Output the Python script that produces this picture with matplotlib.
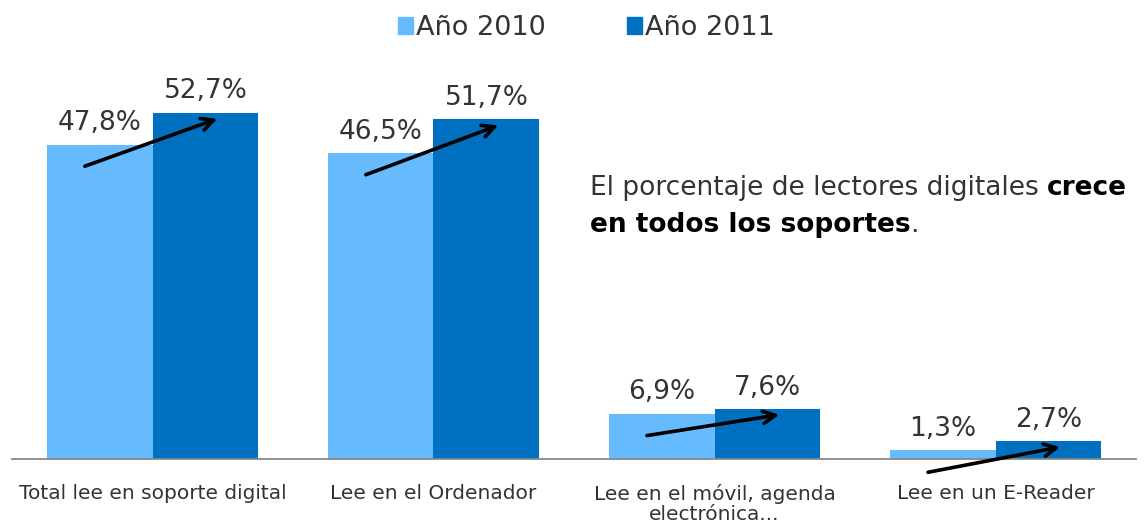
import matplotlib
matplotlib.use("Agg")
import matplotlib.pyplot as plt
from matplotlib.patches import Patch
import numpy as np

CATEGORIES = ["Total lee en soporte digital", "Lee en el Ordenador",
              "Lee en el móvil, agenda\nelectrónica...", "Lee en un E-Reader"]
SERIES = ["Año 2010", "Año 2011"]
VALUES_2010 = [47.8, 46.5, 6.9, 1.3]
VALUES_2011 = [52.7, 51.7, 7.6, 2.7]
LABELS_2010 = ["47,8%", "46,5%", "6,9%", "1,3%"]
LABELS_2011 = ["52,7%", "51,7%", "7,6%", "2,7%"]

C_LIGHT = "#66BBFF"
C_DARK = "#0070C0"
TXT = "#333333"

fig = plt.figure(figsize=(11.45, 5.28), dpi=100)
ax = fig.add_axes([12 / 1145, 69 / 528, 1124 / 1145, 399 / 528])

x = np.arange(len(CATEGORIES))
w = 0.377
ax.bar(x - w / 2, VALUES_2010, w, color=C_LIGHT, zorder=2)
ax.bar(x + w / 2, VALUES_2011, w, color=C_DARK, zorder=2)

for xi, v, lab in zip(x, VALUES_2010, LABELS_2010):
    ax.annotate(lab, (xi - w / 2, v), xytext=(0, 6), textcoords="offset points",
                ha="center", va="bottom", fontsize=19, color=TXT)
for xi, v, lab in zip(x, VALUES_2011, LABELS_2011):
    ax.annotate(lab, (xi + w / 2, v), xytext=(0, 6), textcoords="offset points",
                ha="center", va="bottom", fontsize=19, color=TXT)

# growth arrows from 2010 bar to 2011 bar
for xi, v0, v1 in zip(x, VALUES_2010, VALUES_2011):
    ax.annotate("", xy=(xi + 0.24, v1 - 0.8), xytext=(xi - 0.25, v0 - 3.4),
                arrowprops=dict(arrowstyle="->", color="black", lw=2.6,
                                mutation_scale=22), zorder=5)

ax.set_xlim(-0.5, 3.5)
ax.set_ylim(0, 60.7)
ax.set_xticks(x)
ax.set_xticklabels(CATEGORIES, fontsize=14.5, color=TXT, va="top", linespacing=1.1)
ax.tick_params(axis="x", length=0, pad=18)
ax.set_yticks([])
for s in ["top", "left", "right"]:
    ax.spines[s].set_visible(False)
ax.spines["bottom"].set_color("#888888")
ax.spines["bottom"].set_linewidth(1.3)
ax.patch.set_alpha(0)

handles = [Patch(color=C_LIGHT), Patch(color=C_DARK)]
fig.legend(handles, SERIES, loc="center", bbox_to_anchor=(0.512, 0.947), ncol=2,
           frameon=False, fontsize=19.5, handlelength=0.55, handleheight=0.55,
           handletextpad=0.12, columnspacing=3.0, labelcolor=TXT)

# side note with bold fragments
fig.canvas.draw()
r = fig.canvas.get_renderer()
fs = 19
t1 = fig.text(0.515, 0.644, "El porcentaje de lectores digitales ", fontsize=fs,
              color=TXT, va="center")
bb = t1.get_window_extent(r)
fig.text(bb.x1 / fig.bbox.width, 0.644, "crece", fontsize=fs, color="black",
         fontweight="bold", va="center")
t2 = fig.text(0.515, 0.574, "en todos los soportes", fontsize=fs, color="black",
              fontweight="bold", va="center")
bb2 = t2.get_window_extent(r)
fig.text(bb2.x1 / fig.bbox.width, 0.574, ".", fontsize=fs, color=TXT, va="center")

fig.savefig("out.png", dpi=100)
